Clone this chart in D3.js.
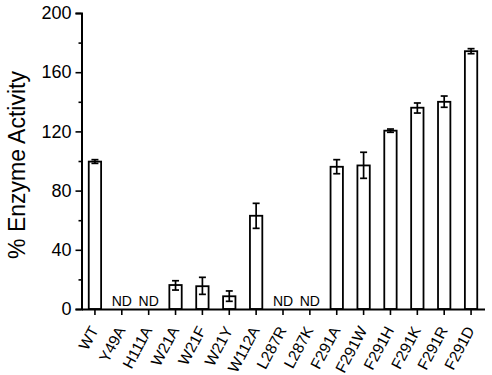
<!DOCTYPE html>
<html>
<head>
<meta charset="utf-8">
<script src="https://cdn.jsdelivr.net/npm/d3@7"></script>
<style>
    body { margin: 0; background: #fff; }
    text { font-family: "Liberation Sans", Arial, sans-serif; fill: #000; }
</style>
</head>
<body>
<div id="chart"></div>
<script>
// mutants on the x axis
const mutants = ["WT", "Y49A", "H111A", "W21A", "W21F", "W21Y", "W112A", "L287R", "L287K",
    "F291A", "F291W", "F291H", "F291K", "F291R", "F291D"];
// % activity, null = not detected
const activity = [99.6, null, null, 16.2, 15.4, 8.6, 63, null, null, 96.1, 97, 120.5, 136, 140, 174.2];
const errLow = [98.4, null, null, 12.8, 9.9, 5.2, 54.5, null, null, 91.4, 88.3, 119.4, 132.4, 136.3, 172.5];
const errHigh = [100.9, null, null, 19.1, 21.4, 12.2, 71.4, null, null, 100.9, 105.9, 121.6, 139.2, 143.9, 175.9];
const majorTicks = [0, 40, 80, 120, 160, 200];
const minorTicks = [20, 60, 100, 140, 180];

let width = 492, height = 375;
let margin = { top: 13, right: 7.5, bottom: 66, left: 81.5 };

let svg = d3.select("#chart").append("svg").attr("width", width).attr("height", height);

// outer padding = half the inner one so every band centre sits in the middle of its step
let x = d3.scaleBand().domain(mutants).range([margin.left, width - margin.right]).paddingInner(0.54).paddingOuter(0.27);
let y = d3.scaleLinear().domain([0, 200]).range([height - margin.bottom, margin.top]);

let rows = mutants.map((m, i) => ({ name: m, value: activity[i], lo: errLow[i], hi: errHigh[i] }));
let measured = rows.filter(d => d.value !== null);
let cx = d => x(d.name) + x.bandwidth() / 2;

// bars
svg.selectAll(".bar").data(measured).join("rect").attr("class", "bar")
    .attr("x", d => x(d.name)).attr("y", d => y(d.value))
    .attr("width", x.bandwidth()).attr("height", d => y(0) - y(d.value))
    .attr("fill", "white").attr("stroke", "#000").attr("stroke-width", 1.8);

// error bars
let eb = svg.selectAll(".err").data(measured).join("g").attr("class", "err")
    .attr("stroke", "#000").attr("stroke-width", 1.7);
eb.append("line").attr("x1", cx).attr("x2", cx).attr("y1", d => y(d.lo)).attr("y2", d => y(d.hi));
eb.append("line").attr("x1", d => cx(d) - 3.5).attr("x2", d => cx(d) + 3.5).attr("y1", d => y(d.hi)).attr("y2", d => y(d.hi));
eb.append("line").attr("x1", d => cx(d) - 3.5).attr("x2", d => cx(d) + 3.5).attr("y1", d => y(d.lo)).attr("y2", d => y(d.lo));

// ND labels
svg.selectAll(".nd").data(rows.filter(d => d.value === null)).join("text").attr("class", "nd")
    .attr("x", cx).attr("y", y(0) - 3)
    .attr("text-anchor", "middle").style("font-size", "14px").text("ND");

// y axis
let yAxis = svg.append("g").attr("transform", "translate(" + margin.left + ",0)")
    .call(d3.axisLeft(y).tickValues(majorTicks).tickSize(6).tickPadding(4));
yAxis.selectAll("text").style("font-size", "18px");
svg.append("g").attr("transform", "translate(" + margin.left + ",0)")
    .call(d3.axisLeft(y).tickValues(minorTicks).tickSize(3).tickFormat(""))
    .select(".domain").remove();

// x axis
let xAxis = svg.append("g").attr("transform", "translate(0," + y(0) + ")")
    .call(d3.axisBottom(x).tickSize(6).tickSizeOuter(0));
xAxis.selectAll("text").style("font-size", "15.5px")
    .attr("text-anchor", "end")
    .attr("transform", "translate(4,21) rotate(-62)")
    .attr("dy", 0).attr("y", 0).attr("x", 0);

svg.selectAll(".domain").attr("stroke-width", 2);
svg.selectAll(".tick line").attr("stroke-width", 1.6);

// y title
svg.append("text").attr("transform", "translate(25," + 165 + ") rotate(-90)")
    .attr("text-anchor", "middle").style("font-size", "23px").text("% Enzyme Activity");
</script>
</body>
</html>
